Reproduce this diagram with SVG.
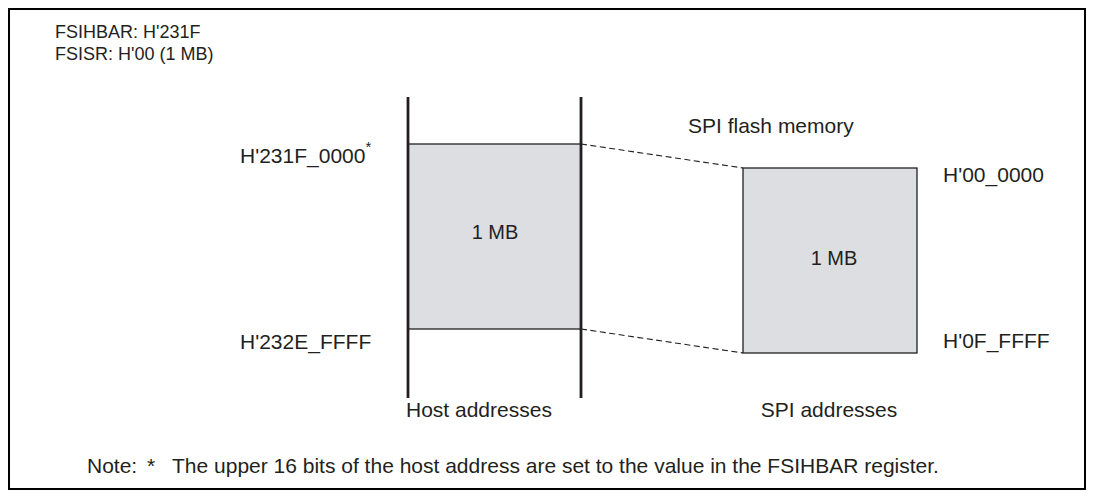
<svg xmlns="http://www.w3.org/2000/svg" width="1094" height="499" viewBox="0 0 1094 499">
<style>
text{font-family:"Liberation Sans",Arial,sans-serif;fill:#231f20;font-size:21px}
.hdr{font-size:18px}
.blk{fill:#dcdee2;stroke:#231f20;stroke-width:1.3}
.col{stroke:#231f20;stroke-width:2.8}
.dash{stroke:#231f20;stroke-width:1.1;stroke-dasharray:6 3.5;fill:none}
</style>
<rect x="9" y="9" width="1076" height="480" fill="#fff" stroke="#000" stroke-width="2"/>
<g id="header">
<text class="hdr" x="55" y="38">FSIHBAR: H'231F</text>
<text class="hdr" x="55" y="60">FSISR: H'00 (1 MB)</text>
</g>
<g id="host">
<rect class="blk" x="408" y="144" width="173" height="185"/>
<line class="col" x1="408" y1="97" x2="408" y2="398"/>
<line class="col" x1="581" y1="97" x2="581" y2="398"/>
<text x="495" y="239" text-anchor="middle" style="font-size:20px">1 MB</text>
<text x="240" y="163">H'231F_0000<tspan dy="-11" style="font-size:15px">*</tspan></text>
<text x="240" y="349">H'232E_FFFF</text>
<text x="406" y="417">Host addresses</text>
</g>
<g id="spi">
<rect class="blk" x="743" y="168" width="174" height="185"/>
<text x="834" y="265" text-anchor="middle" style="font-size:20px">1 MB</text>
<text x="688" y="133">SPI flash memory</text>
<text x="943" y="182">H'00_0000</text>
<text x="943" y="348">H'0F_FFFF</text>
<text x="829" y="417" text-anchor="middle">SPI addresses</text>
</g>
<g id="connectors">
<line class="dash" x1="581" y1="144" x2="743" y2="168"/>
<line class="dash" x1="581" y1="329" x2="743" y2="353"/>
</g>
<g id="note">
<text y="473"><tspan x="87">Note:</tspan><tspan x="147">*</tspan><tspan x="172">The upper 16 bits of the host address are set to the value in the FSIHBAR register.</tspan></text>
</g>
</svg>
